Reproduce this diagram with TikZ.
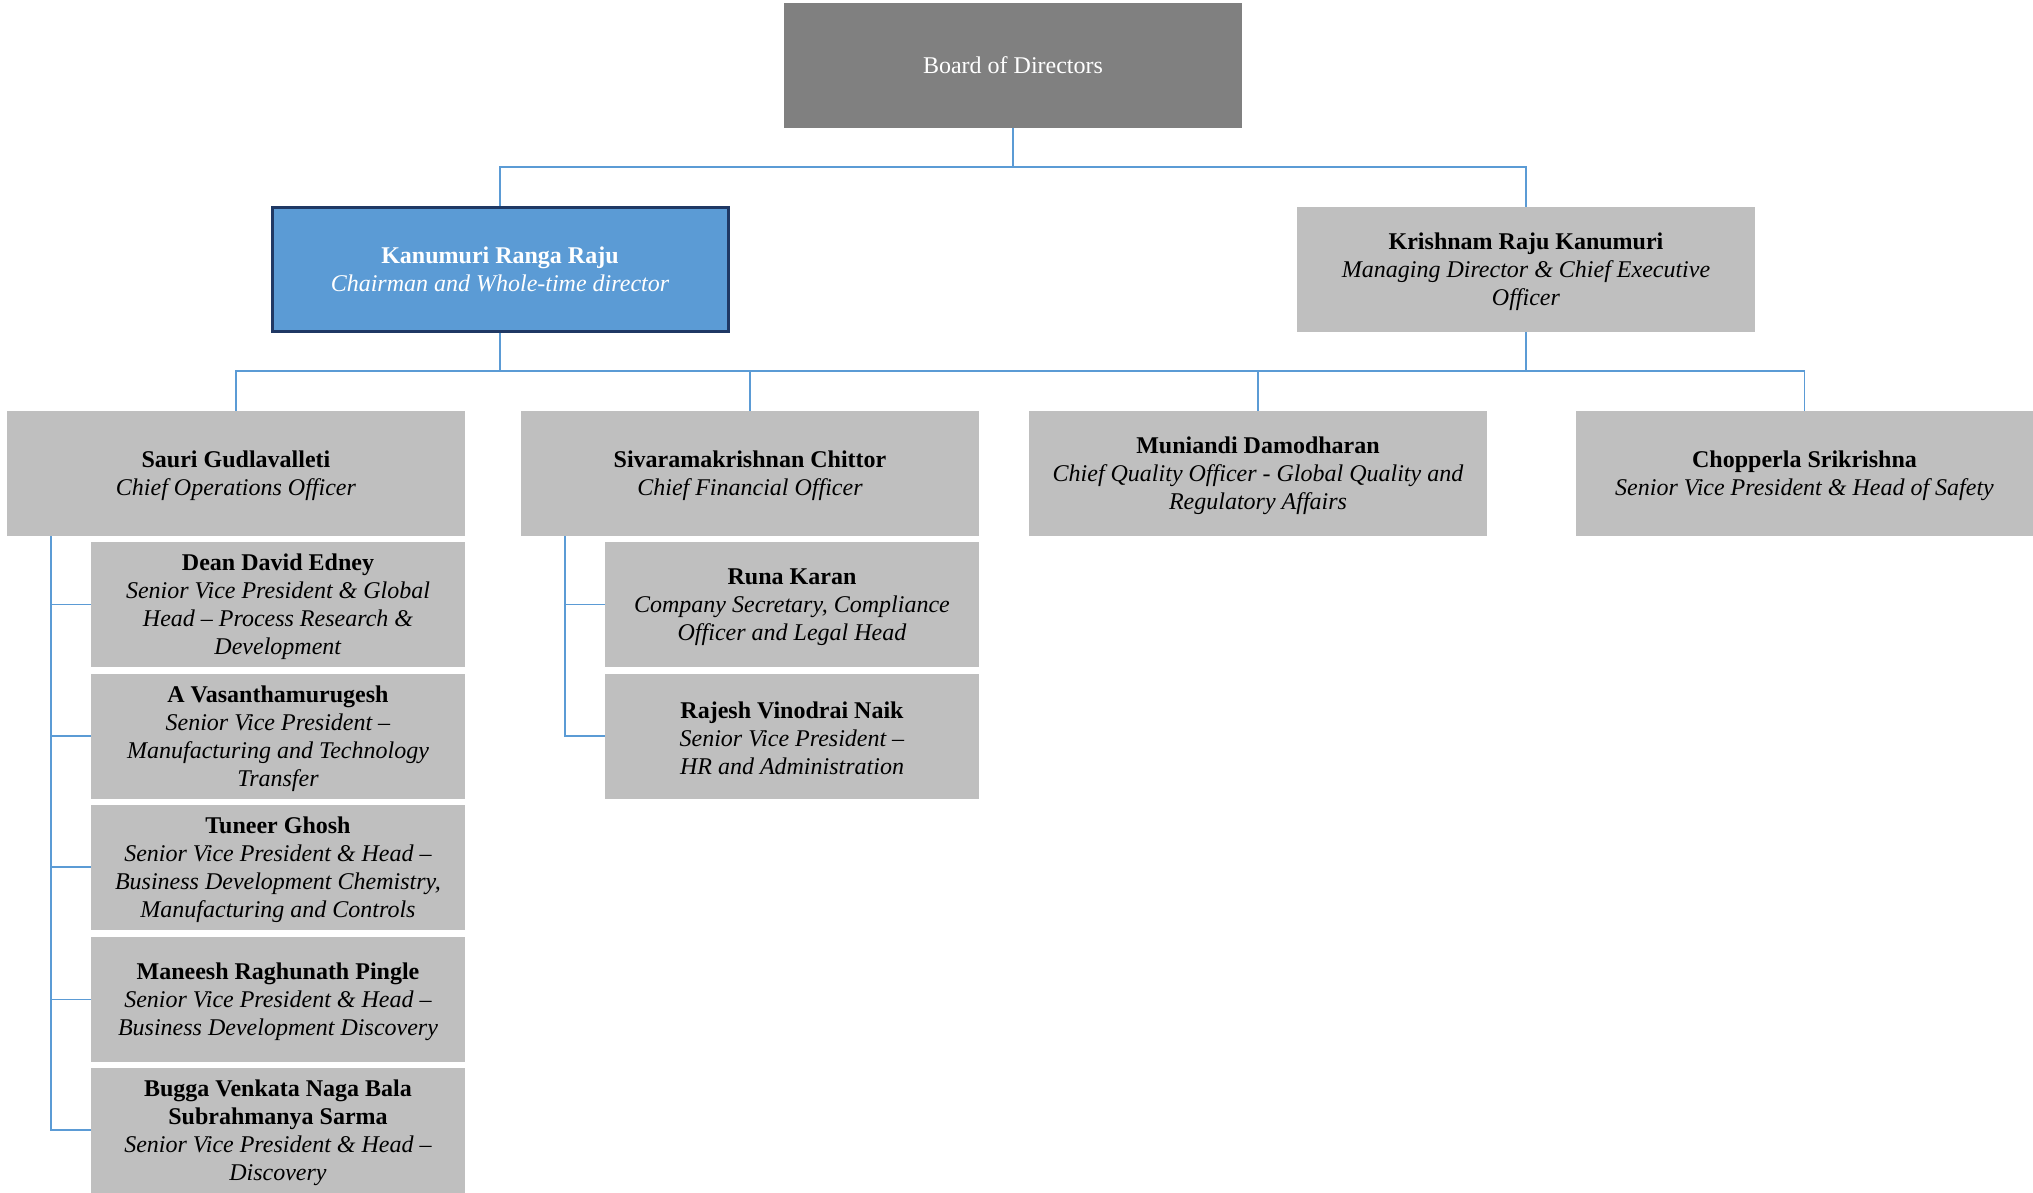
\documentclass[tikz,border=0pt]{standalone}
\usepackage{fontspec}
\setmainfont{Liberation Serif}
\definecolor{conncol}{RGB}{91,155,213}
\definecolor{boxgray}{RGB}{191,191,191}
\definecolor{boardgray}{RGB}{128,128,128}
\definecolor{kanfill}{RGB}{91,155,213}
\definecolor{kanborder}{RGB}{31,56,100}
\newcommand{\topstrut}{\rule{0pt}{22pt}}
\begin{document}
\begin{tikzpicture}[x=1pt,y=-1pt,
  orgbox/.style={rectangle,fill=boxgray,minimum width=458pt,minimum height=125pt,
    inner sep=0pt,align=center,text=black,font=\fontsize{24}{28}\selectfont},
  subbox/.style={orgbox,minimum width=374pt},
  conn/.style={draw=conncol,line width=1.8pt}]
\useasboundingbox (0,0) rectangle (2033,1192);
% top
\node[orgbox,fill=boardgray,text=white] (board) at (1013,65.5) {Board of Directors};
\node[orgbox,fill=kanfill,draw=kanborder,line width=3pt,minimum width=456pt,minimum height=124pt,text=white] (kan) at (500,269.5)
  {\textbf{Kanumuri Ranga Raju}\\ \textit{Chairman and Whole-time director}};
\node[orgbox] (kris) at (1526,269.5)
  {\topstrut\textbf{Krishnam Raju Kanumuri}\\ \textit{Managing Director \& Chief Executive}\\ \textit{Officer}};
% row 2
\node[orgbox] (sauri) at (236,473.5) {\topstrut\textbf{Sauri Gudlavalleti}\\ \textit{Chief Operations Officer}};
\node[orgbox] (siva) at (750,473.5) {\topstrut\textbf{Sivaramakrishnan Chittor}\\ \textit{Chief Financial Officer}};
\node[orgbox] (muni) at (1258,473.5) {\topstrut\textbf{Muniandi Damodharan}\\ \textit{Chief Quality Officer - Global Quality and}\\ \textit{Regulatory Affairs}};
\node[orgbox] (chop) at (1804.5,473.5) {\topstrut\textbf{Chopperla Srikrishna}\\ \textit{Senior Vice President \& Head of Safety}};
% left sub
\node[subbox] (dean) at (278,604.5) {\topstrut\textbf{Dean David Edney}\\ \textit{Senior Vice President \& Global}\\ \textit{Head – Process Research \&}\\ \textit{Development}};
\node[subbox] (vasan) at (278,736) {\topstrut\textbf{A Vasanthamurugesh}\\ \textit{Senior Vice President –}\\ \textit{Manufacturing and Technology}\\ \textit{Transfer}};
\node[subbox] (tuneer) at (278,867) {\topstrut\textbf{Tuneer Ghosh}\\ \textit{Senior Vice President \& Head –}\\ \textit{Business Development Chemistry,}\\ \textit{Manufacturing and Controls}};
\node[subbox] (maneesh) at (278,999.5) {\topstrut\textbf{Maneesh Raghunath Pingle}\\ \textit{Senior Vice President \& Head –}\\ \textit{Business Development Discovery}};
\node[subbox] (bugga) at (278,1130) {\topstrut\textbf{Bugga Venkata Naga Bala}\\ \textbf{Subrahmanya Sarma}\\ \textit{Senior Vice President \& Head –}\\ \textit{Discovery}};
% middle sub
\node[subbox] (runa) at (792,604.5) {\topstrut\textbf{Runa Karan}\\ \textit{Company Secretary, Compliance}\\ \textit{Officer and Legal Head}};
\node[subbox] (rajesh) at (792,736) {\topstrut\textbf{Rajesh Vinodrai Naik}\\ \textit{Senior Vice President –}\\ \textit{HR and Administration}};
% connectors
\coordinate (bus1) at (0,167);
\coordinate (bus2) at (0,371);
\coordinate (lx) at (51,0);
\coordinate (mx) at (565,0);
\draw[conn] (board.south) -- (board.south |- bus1);
\draw[conn] (kan.north) |- (kris.north |- bus1) -- (kris.north);
\draw[conn] (kan.south) -- (kan.south |- bus2);
\draw[conn] (kris.south) -- (kris.south |- bus2);
\draw[conn] (sauri.north) |- (chop.north |- bus2) -- (chop.north);
\draw[conn] (siva.north) -- (siva.north |- bus2);
\draw[conn] (muni.north) -- (muni.north |- bus2);
\draw[conn] (sauri.south -| lx) |- (bugga.west);
\draw[conn] (lx |- dean.west) -- (dean.west);
\draw[conn] (lx |- vasan.west) -- (vasan.west);
\draw[conn] (lx |- tuneer.west) -- (tuneer.west);
\draw[conn] (lx |- maneesh.west) -- (maneesh.west);
\draw[conn] (siva.south -| mx) |- (rajesh.west);
\draw[conn] (mx |- runa.west) -- (runa.west);
\end{tikzpicture}
\end{document}
